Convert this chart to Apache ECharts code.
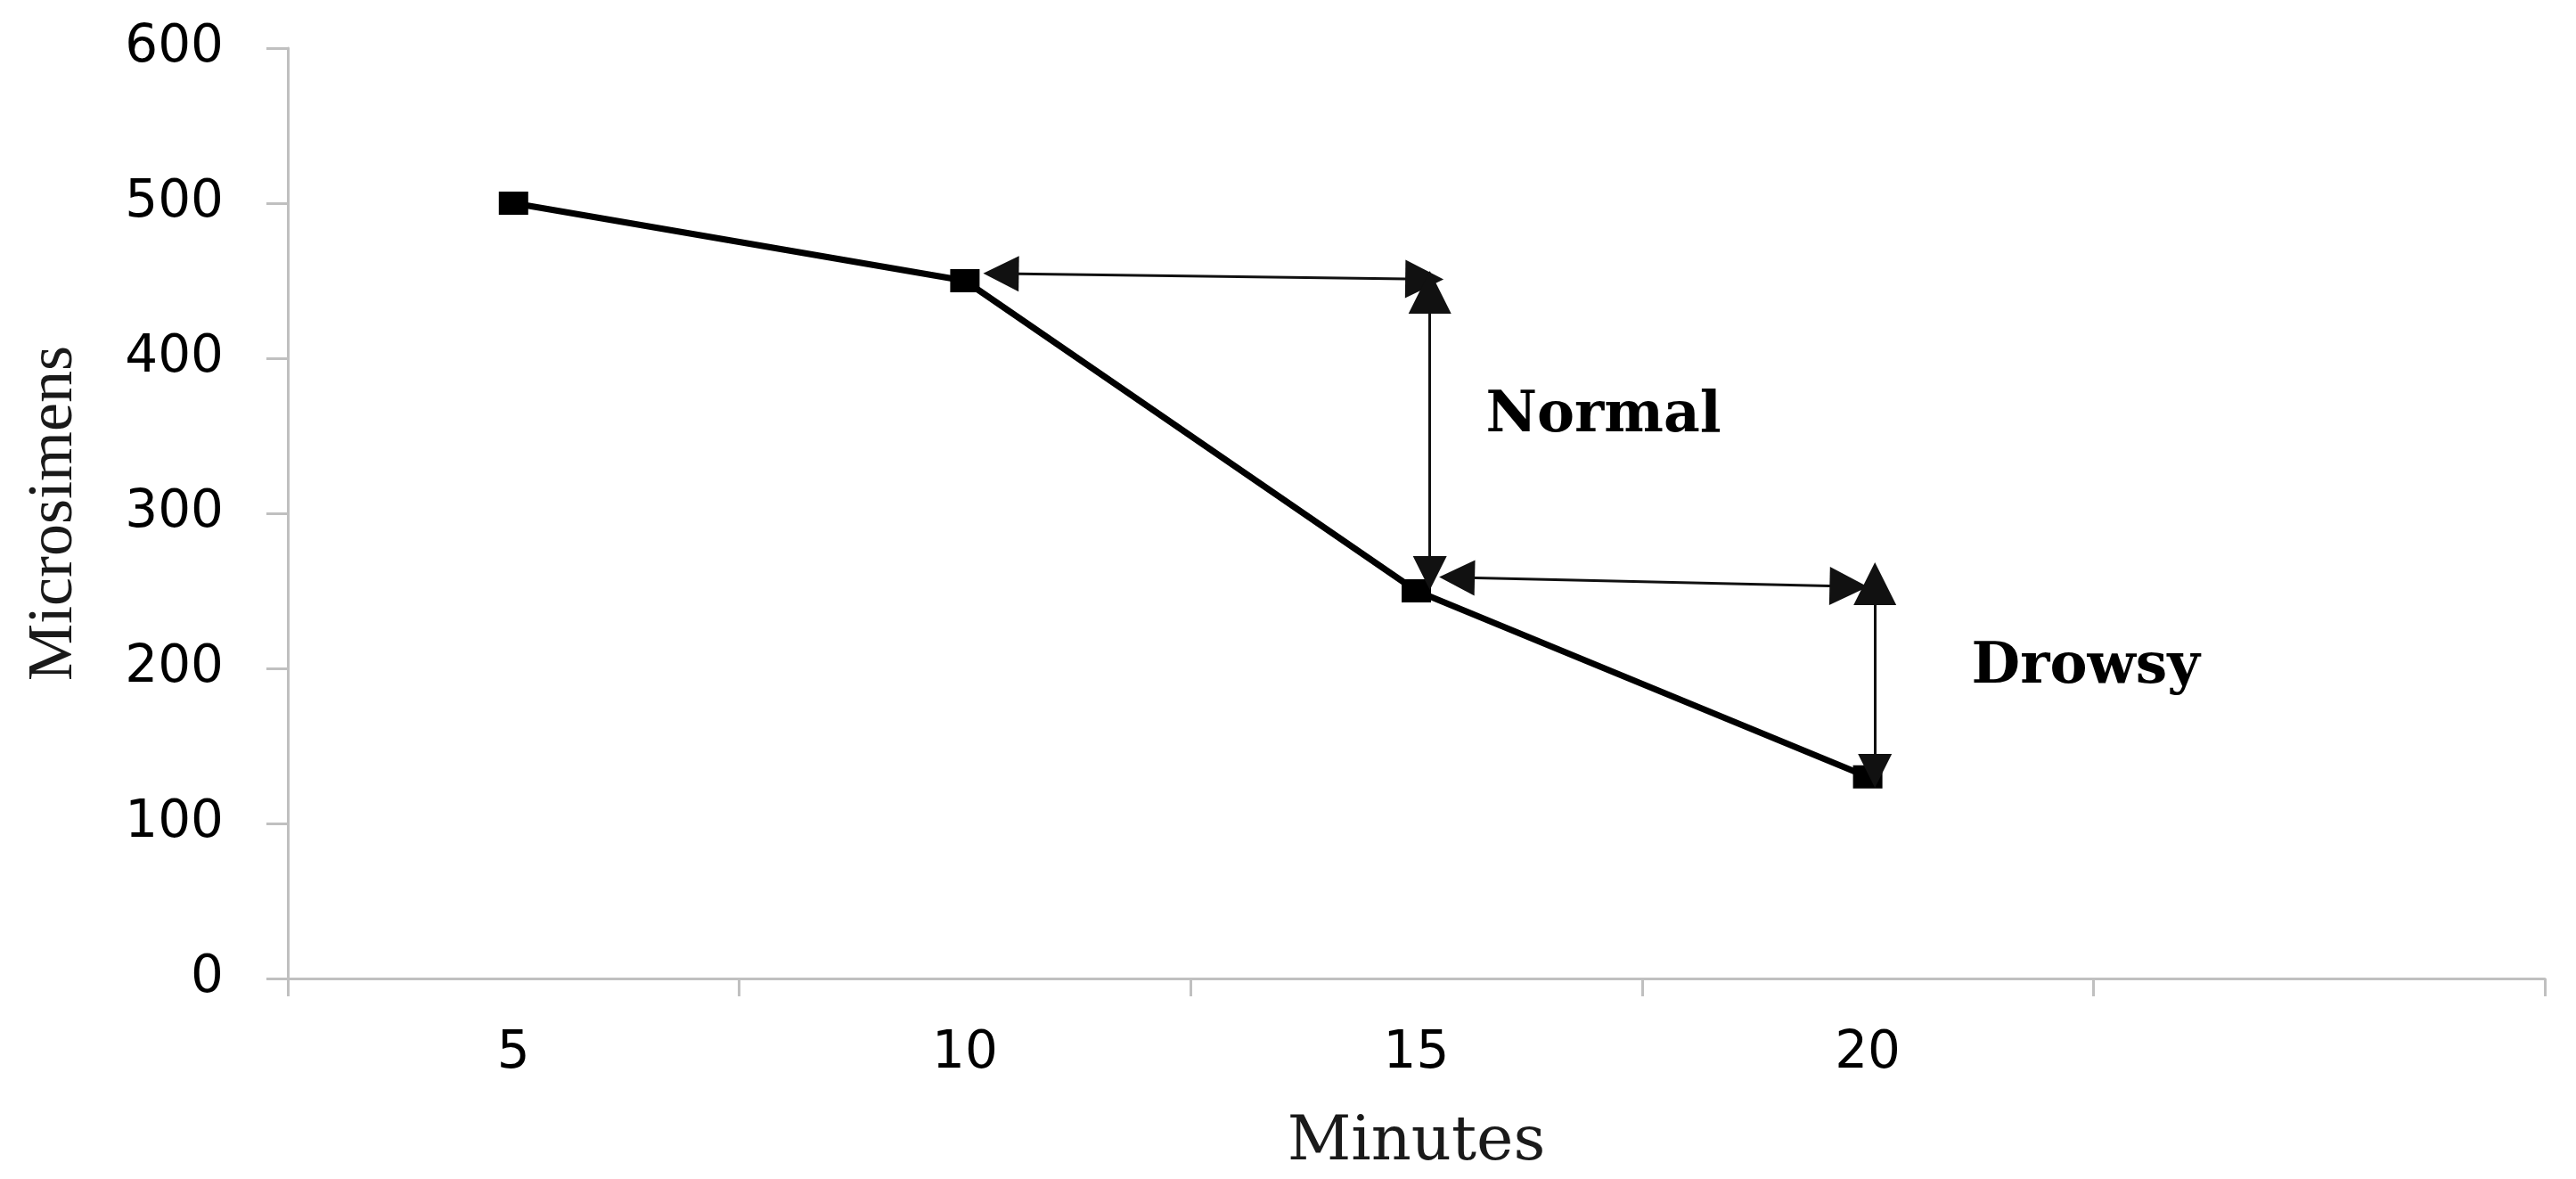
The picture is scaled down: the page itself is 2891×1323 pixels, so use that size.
<!DOCTYPE html>
<html>
<head>
<meta charset="utf-8">
<script src="https://cdn.jsdelivr.net/npm/echarts@6/dist/echarts.min.js"></script>
<style>
html,body{margin:0;padding:0;background:#fff;}
#chart{width:2891px;height:1323px;}
</style>
</head>
<body>
<div id="chart"></div>
<script>
// ---- data ----
const categories = ['5', '10', '15', '20', ''];
const microsimens = [500, 450, 250, 130, null];
// double-headed arrows, [minutes, microsimens] of the two arrow heads
const horizontalArrows = [
  [[10.40, 454.6], [15.09, 451.0]],
  [[15.45, 258.6], [19.79, 252.9]]
];
const verticalArrows = [
  [[15.15, 442.5], [15.15, 261.5]],
  [[20.08, 254.6], [20.08, 133.9]]
];
const zoneLabels = [
  { name: 'Normal', value: [15.77, 362] },
  { name: 'Drowsy', value: [21.15, 200] }
];

const axisGray = '#c0c0c0';
const chart = echarts.init(document.getElementById('chart'));
chart.setOption({
  animation: false,
  backgroundColor: '#ffffff',
  grid: { left: 323, right: 35, top: 54, bottom: 225, containLabel: false },
  xAxis: [
    {
      type: 'category',
      data: categories,
      boundaryGap: true,
      name: 'Minutes',
      nameLocation: 'middle',
      nameGap: 150,
      nameTextStyle: { fontFamily: 'DejaVu Serif', fontSize: 70, color: '#1a1a1a' },
      axisLine: { show: true, lineStyle: { color: axisGray, width: 3 } },
      axisTick: { show: true, interval: 0, length: 20, lineStyle: { color: axisGray, width: 3 } },
      axisLabel: { fontFamily: 'DejaVu Sans', fontSize: 58, color: '#000', margin: 56, interval: 0 },
      splitLine: { show: false }
    },
    {
      type: 'value',
      min: 2.5,
      max: 27.5,
      show: false,
      splitLine: { show: false }
    }
  ],
  yAxis: {
    type: 'value',
    min: 0,
    max: 600,
    interval: 100,
    name: 'Microsimens',
    nameLocation: 'middle',
    nameGap: 226,
    nameRotate: 90,
    nameTextStyle: { fontFamily: 'Liberation Serif', fontSize: 72, color: '#1a1a1a' },
    axisLine: { show: true, lineStyle: { color: axisGray, width: 3 } },
    axisTick: { show: true, length: 24, lineStyle: { color: axisGray, width: 3 } },
    axisLabel: { fontFamily: 'DejaVu Sans', fontSize: 58, color: '#000', margin: 72 },
    splitLine: { show: false }
  },
  series: [
    {
      type: 'line',
      data: microsimens,
      xAxisIndex: 0,
      yAxisIndex: 0,
      symbol: 'rect',
      symbolSize: [33, 26],
      lineStyle: { color: '#000', width: 7 },
      itemStyle: { color: '#000' },
      z: 3
    },
    {
      type: 'lines',
      coordinateSystem: 'cartesian2d',
      xAxisIndex: 1,
      yAxisIndex: 0,
      symbol: ['triangle', 'triangle'],
      symbolSize: [40, 43],
      lineStyle: { color: '#111', width: 3, opacity: 1 },
      data: horizontalArrows.map(c => ({ coords: c })),
      z: 4
    },
    {
      type: 'lines',
      coordinateSystem: 'cartesian2d',
      xAxisIndex: 1,
      yAxisIndex: 0,
      symbol: ['triangle', 'triangle'],
      symbolSize: [48, 38],
      lineStyle: { color: '#111', width: 3, opacity: 1 },
      data: verticalArrows.map(c => ({ coords: c })),
      z: 4
    },
    {
      type: 'scatter',
      xAxisIndex: 1,
      yAxisIndex: 0,
      symbolSize: 0,
      itemStyle: { opacity: 1, color: '#000' },
      data: zoneLabels,
      label: {
        show: true,
        position: 'right',
        distance: 0,
        formatter: p => p.name,
        fontFamily: 'DejaVu Serif',
        fontWeight: 'bold',
        fontSize: 63,
        color: '#000',
        opacity: 1
      },
      emphasis: { disabled: true },
      silent: true,
      z: 5
    }
  ]
});
</script>
</body>
</html>
